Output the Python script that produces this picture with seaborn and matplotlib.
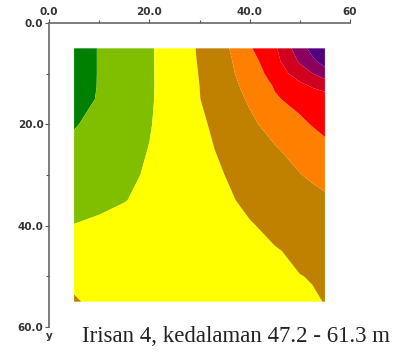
import numpy as np
import matplotlib
matplotlib.use('Agg')
import matplotlib.pyplot as plt
import seaborn as sns

# grid node positions (m)
x_nodes = [5, 10, 15, 20, 25, 30, 35, 40, 45, 50, 52.5, 55]
y_nodes = [5, 7.5, 10, 12.5, 15, 20, 25, 30, 35, 40, 45, 50, 55]

# values, one row per y node
z_rows = [
    [0.50, 1.05, 1.47, 1.89, 2.46, 3.10, 3.79, 4.90, 5.82, 7.59, 8.32, 9.06],
    [0.50, 1.05, 1.47, 1.89, 2.45, 3.07, 3.73, 4.61, 5.67, 7.13, 7.79, 8.45],
    [0.50, 1.05, 1.47, 1.89, 2.44, 3.03, 3.69, 4.44, 5.39, 6.49, 6.98, 7.50],
    [0.55, 1.05, 1.48, 1.89, 2.43, 3.00, 3.60, 4.27, 5.07, 5.73, 6.07, 6.30],
    [0.60, 1.08, 1.50, 1.90, 2.42, 2.98, 3.53, 4.11, 4.90, 5.30, 5.45, 5.60],
    [0.93, 1.29, 1.62, 1.95, 2.39, 2.84, 3.33, 3.83, 4.32, 4.81, 5.05, 5.30],
    [1.25, 1.50, 1.76, 2.02, 2.39, 2.77, 3.15, 3.54, 3.92, 4.30, 4.50, 4.70],
    [1.40, 1.62, 1.84, 2.09, 2.39, 2.70, 3.00, 3.32, 3.65, 3.97, 4.13, 4.30],
    [1.60, 1.80, 1.97, 2.20, 2.43, 2.66, 2.88, 3.15, 3.40, 3.62, 3.73, 3.85],
    [2.03, 2.15, 2.30, 2.45, 2.60, 2.72, 2.83, 2.95, 3.15, 3.35, 3.45, 3.55],
    [2.40, 2.45, 2.50, 2.55, 2.62, 2.70, 2.78, 2.86, 2.96, 3.10, 3.18, 3.25],
    [2.75, 2.65, 2.62, 2.63, 2.65, 2.68, 2.72, 2.77, 2.84, 2.99, 3.02, 3.08],
    [3.10, 2.75, 2.70, 2.70, 2.72, 2.74, 2.77, 2.80, 2.86, 2.92, 2.96, 3.01],
]

levels = [-1, 1, 2, 3, 4, 5, 6, 7, 8, 10]
colors = ['#008000', '#80BF00', '#FFFF00', '#C08000', '#FF8000',
          '#FF0000', '#D0001E', '#8B005E', '#52007E']

x_ticks = [0, 20, 40, 60]
x_ticklabels = ['0.0', '20.0', '40.0', '60']
y_ticks = [0, 20, 40, 60]
y_ticklabels = ['0.0', '20.0', '40.0', '60.0']
title = 'Irisan 4, kedalaman 47.2 - 61.3 m'

sns.set_theme(style='ticks')

fig = plt.figure(figsize=(3.99, 3.52), dpi=100)
ax = fig.add_axes([49 / 399, 1 - 327 / 352, 301 / 399, 304 / 352])

Z = np.array(z_rows)
ax.contourf(x_nodes, y_nodes, Z, levels=levels, colors=colors, antialiased=True)

ax.set_xlim(0, 60)
ax.set_ylim(60, 0)
sns.despine(ax=ax, top=False, right=True, left=False, bottom=True)
ax.xaxis.tick_top()
ax.set_xticks(x_ticks)
ax.set_xticklabels(x_ticklabels)
ax.set_yticks(y_ticks)
ax.set_yticklabels(y_ticklabels)
ax.set_xticks([10, 30, 50], minor=True)
ax.set_yticks([10, 30, 50], minor=True)

for side in ['top', 'left']:
    ax.spines[side].set_color('#666666')
    ax.spines[side].set_linewidth(1.2)
ax.tick_params(which='major', length=3, width=0.8, color='#555555', pad=1,
               labelsize=7.5)
ax.tick_params(which='minor', length=2, width=0.8, color='#555555')
for lab in ax.get_xticklabels() + ax.get_yticklabels():
    lab.set_fontweight('bold')
    lab.set_color('#333333')

fig.text(49 / 399, 1 - 336 / 352, 'y', fontsize=7.5, fontweight='bold',
         color='#333333', ha='center', va='center')
fig.text(82 / 399, 1 - 337 / 352, title, family='Liberation Serif',
         fontsize=16.5, color='#222222', ha='left', va='center')

fig.savefig('out.png', dpi=100, facecolor='white')
